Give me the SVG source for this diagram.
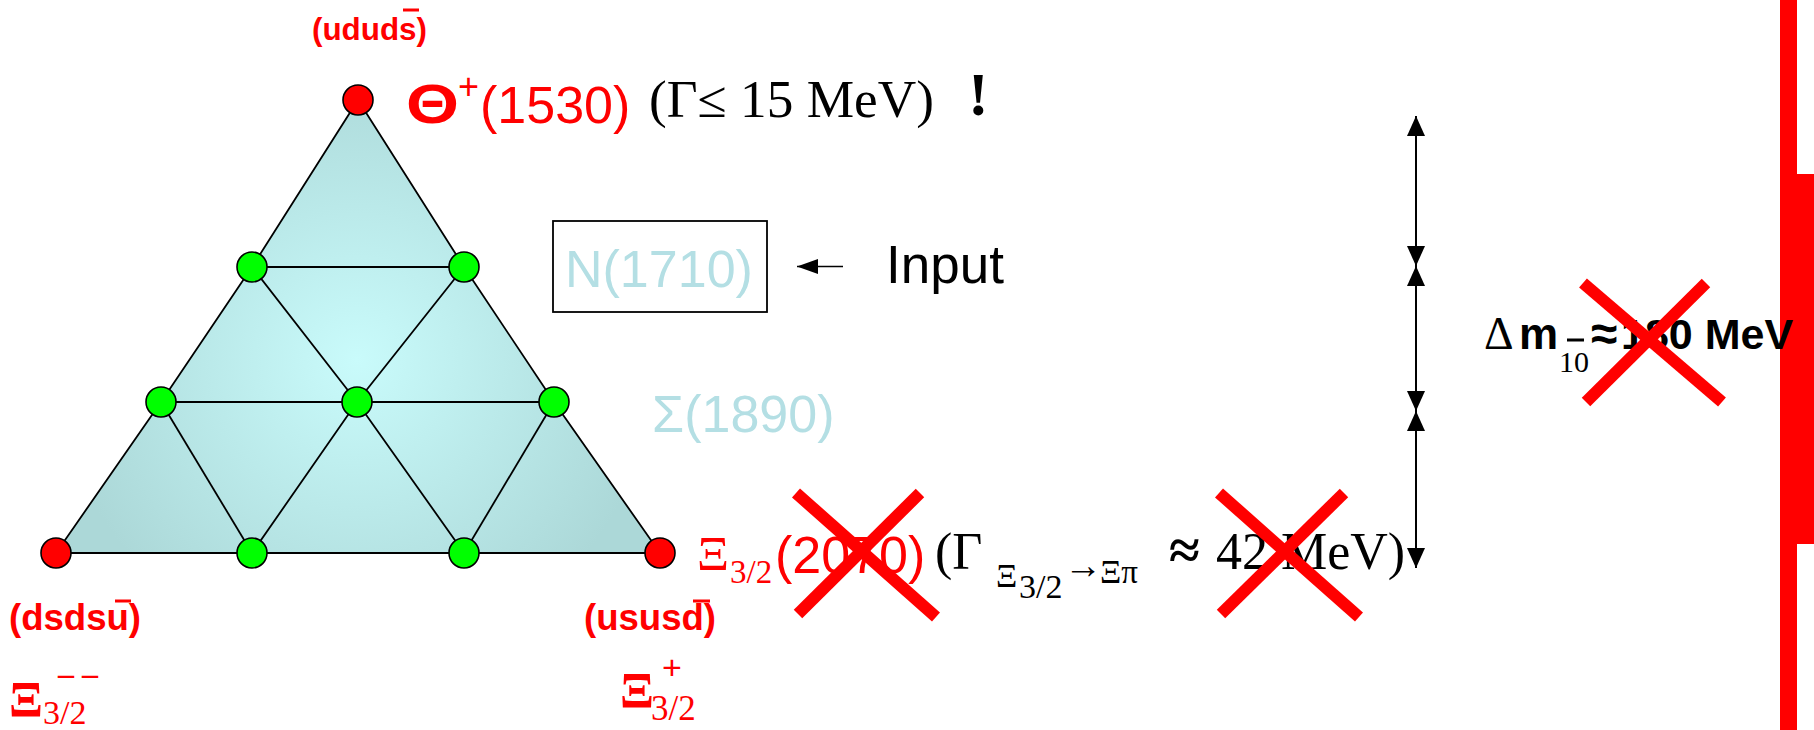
<svg xmlns="http://www.w3.org/2000/svg" width="1814" height="730" viewBox="0 0 1814 730">
<style>
.sans{font-family:"Liberation Sans",Arial,sans-serif}
.serif{font-family:"Liberation Serif","Times New Roman",serif}
.red{fill:#ff0000}
.blk{fill:#000000}
.pale{fill:#b4dfe4}
.edge{stroke:#000;stroke-width:1.8;fill:none}
.body{stroke:#000;stroke-width:1.8;fill:url(#tg)}
.rn{fill:#ff0000;stroke:#000;stroke-width:1.6}
.gn{fill:#00ff00;stroke:#000;stroke-width:1.6}
.cross{stroke:#ff0000;stroke-width:12;fill:none}
.bar{stroke:#ff0000;stroke-width:3}
.dim{stroke:#000;stroke-width:2;fill:none}
</style>
<defs>
<radialGradient id="tg" gradientUnits="userSpaceOnUse" cx="357" cy="360" r="300">
<stop offset="0" stop-color="#c9fbfb"/>
<stop offset="1" stop-color="#acd8d8"/>
</radialGradient>
<marker id="ah" viewBox="0 0 20 18" refX="20" refY="9" markerWidth="20" markerHeight="18" markerUnits="userSpaceOnUse" orient="auto-start-reverse">
<path d="M0,0 L20,9 L0,18 z" fill="#000"/>
</marker>
<marker id="ah2" viewBox="0 0 21 15" refX="21" refY="7.5" markerWidth="21" markerHeight="15" markerUnits="userSpaceOnUse" orient="auto">
<path d="M0,0 L21,7.5 L0,15 z" fill="#000"/>
</marker>
</defs>
<rect width="1814" height="730" fill="#ffffff"/>

<!-- red bars at the right edge -->
<g id="rightbar">
<rect x="1780" y="0" width="17" height="730" fill="#ff0000"/>
<rect x="1780" y="174" width="34" height="370" fill="#ff0000"/>
</g>

<!-- triangle body -->
<g id="triangle">
<polygon class="body" points="358,100 464,267 554,402 660,553 464,553 252,553 56,553 161,402 252,267"/>
</g>

<!-- connectors -->
<g id="connectors">
<line class="edge" x1="252" y1="267" x2="464" y2="267"/>
<line class="edge" x1="161" y1="402" x2="554" y2="402"/>
<polyline class="edge" points="252,267 357,402 464,553"/>
<polyline class="edge" points="464,267 357,402 252,553"/>
<line class="edge" x1="161" y1="402" x2="252" y2="553"/>
<line class="edge" x1="554" y1="402" x2="464" y2="553"/>
<line class="dim" x1="1416" y1="116" x2="1416" y2="266" marker-start="url(#ah)" marker-end="url(#ah)"/>
<line class="dim" x1="1416" y1="266" x2="1416" y2="411" marker-start="url(#ah)" marker-end="url(#ah)"/>
<line class="dim" x1="1416" y1="411" x2="1416" y2="568" marker-start="url(#ah)" marker-end="url(#ah)"/>
<line x1="843" y1="266.5" x2="797" y2="266.5" stroke="#000" stroke-width="1.6" marker-end="url(#ah2)"/>
</g>

<!-- lattice nodes -->
<g id="n-theta"><circle class="rn" cx="358" cy="100" r="15"/></g>
<g id="n-r2a"><circle class="gn" cx="252" cy="267" r="15"/></g>
<g id="n-r2b"><circle class="gn" cx="464" cy="267" r="15"/></g>
<g id="n-r3a"><circle class="gn" cx="161" cy="402" r="15"/></g>
<g id="n-r3b"><circle class="gn" cx="357" cy="402" r="15"/></g>
<g id="n-r3c"><circle class="gn" cx="554" cy="402" r="15"/></g>
<g id="n-xi-mm"><circle class="rn" cx="56" cy="553" r="15"/></g>
<g id="n-r4b"><circle class="gn" cx="252" cy="553" r="15"/></g>
<g id="n-r4c"><circle class="gn" cx="464" cy="553" r="15"/></g>
<g id="n-xi-p"><circle class="rn" cx="660" cy="553" r="15"/></g>

<!-- quark content labels -->
<g id="q-top">
<text class="sans red" x="312" y="40" font-size="32" font-weight="bold" textLength="115" lengthAdjust="spacingAndGlyphs">(ududs)</text>
<line class="bar" x1="403" y1="10" x2="419" y2="10"/>
</g>
<g id="q-left">
<text class="sans red" x="9" y="630" font-size="36" font-weight="bold" textLength="132" lengthAdjust="spacingAndGlyphs">(dsdsu)</text>
<line class="bar" x1="115" y1="601" x2="131" y2="601"/>
</g>
<g id="q-right">
<text class="sans red" x="584" y="630" font-size="36" font-weight="bold" textLength="132" lengthAdjust="spacingAndGlyphs">(ususd)</text>
<line class="bar" x1="693" y1="601" x2="710" y2="601"/>
</g>

<!-- Xi labels below -->
<g id="xi-mm-label">
<text class="serif red" x="9" y="716" font-size="50" font-weight="bold">Ξ</text>
<text class="serif red" x="58" y="684" font-size="32" font-weight="bold">– –</text>
<text class="serif red" x="43" y="724" font-size="34">3/2</text>
</g>
<g id="xi-p-label">
<text class="serif red" x="620" y="707" font-size="50" font-weight="bold">Ξ</text>
<text class="sans red" x="662" y="679" font-size="34">+</text>
<text class="serif red" x="651" y="720" font-size="35">3/2</text>
</g>

<!-- Theta label -->
<g id="theta-label">
<text class="sans red" x="406" y="123" font-size="55" font-weight="bold" textLength="53" lengthAdjust="spacingAndGlyphs">Θ</text>
<text class="sans red" x="458" y="99" font-size="36">+</text>
<text class="sans red" x="480" y="123" font-size="52">(1530)</text>
<text class="serif blk" x="649" y="117" font-size="52" textLength="285" lengthAdjust="spacingAndGlyphs">(Γ≤ 15 MeV)</text>
<text class="serif blk" x="968" y="115" font-size="62" font-weight="bold">!</text>
</g>

<!-- N(1710) -->
<g id="n1710">
<rect x="553" y="221" width="214" height="91" fill="none" stroke="#000" stroke-width="1.8"/>
<text class="sans pale" x="565" y="287" font-size="52">N(1710)</text>
</g>
<g id="input-label">
<text class="sans blk" x="886" y="283" font-size="53">Input</text>
</g>

<!-- Sigma(1890) -->
<g id="sigma1890">
<text class="sans pale" x="652" y="432" font-size="52">Σ(1890)</text>
</g>

<!-- Xi 3/2 (2070) line -->
<g id="xi2070">
<text class="serif red" x="697" y="570" font-size="48" textLength="32" lengthAdjust="spacingAndGlyphs">Ξ</text>
<text class="serif red" x="730" y="583" font-size="33">3/2</text>
<text class="sans red" x="775" y="573" font-size="52">(2070)</text>
<text class="serif blk" x="935" y="569" font-size="52">(Γ</text>
<text class="serif blk" x="996" y="587" font-size="33">Ξ</text>
<text class="serif blk" x="1019" y="598" font-size="34">3/2</text>
<text class="serif blk" x="1064" y="578" font-size="38">→</text>
<text class="serif blk" x="1100" y="583" font-size="33">Ξπ</text>
<text class="serif blk" x="1169" y="569" font-size="56" font-weight="bold">≈</text>
<text class="serif blk" x="1216" y="569" font-size="52">42 MeV)</text>
</g>

<!-- Delta m label -->
<g id="deltam">
<text class="serif blk" x="1484" y="349" font-size="46">Δ</text>
<text class="sans blk" x="1519" y="349" font-size="44" font-weight="bold">m</text>
<text class="serif blk" x="1559" y="372" font-size="30">10</text>
<line x1="1567" y1="340" x2="1584" y2="340" stroke="#000" stroke-width="3"/>
<text class="sans blk" x="1591" y="350" font-size="48" font-weight="bold">≈</text>
<text class="sans blk" x="1621" y="349" font-size="43" font-weight="bold">180 MeV</text>
</g>

<!-- red crosses -->
<g id="crosses">
<line class="cross" x1="796" y1="493" x2="936" y2="617"/>
<line class="cross" x1="920" y1="493" x2="798" y2="614"/>
<line class="cross" x1="1219" y1="493" x2="1359" y2="617"/>
<line class="cross" x1="1344" y1="493" x2="1221" y2="614"/>
<line class="cross" x1="1583" y1="283" x2="1722" y2="402"/>
<line class="cross" x1="1706" y1="283" x2="1586" y2="402"/>
</g>
</svg>
